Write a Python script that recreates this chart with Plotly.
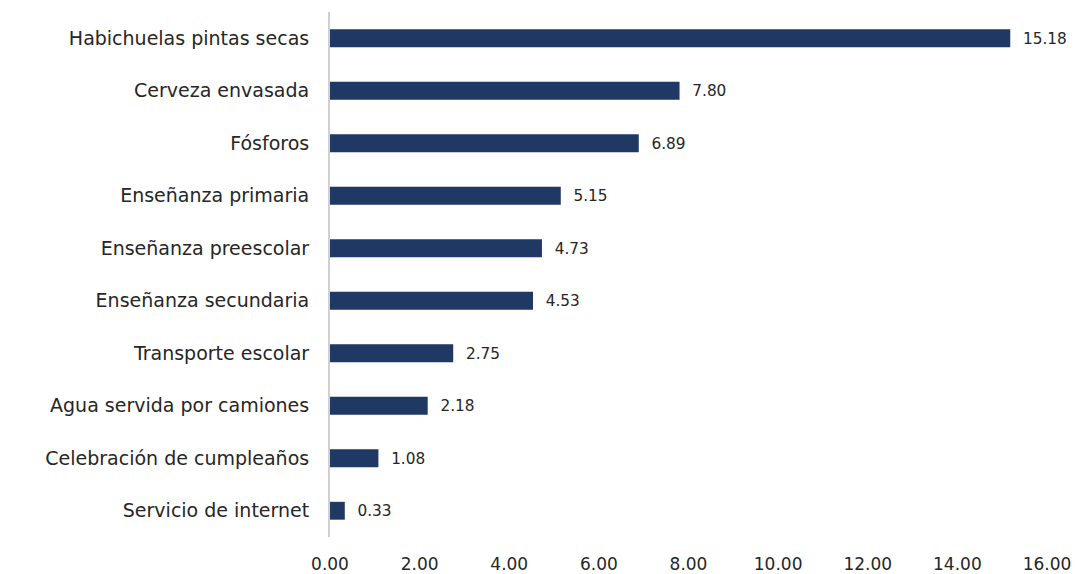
import plotly.graph_objects as go

# Data
categorias = [
    "Habichuelas pintas secas",
    "Cerveza envasada",
    "Fósforos",
    "Enseñanza primaria",
    "Enseñanza preescolar",
    "Enseñanza secundaria",
    "Transporte escolar",
    "Agua servida por camiones",
    "Celebración de cumpleaños",
    "Servicio de internet",
]
valores = [15.18, 7.80, 6.89, 5.15, 4.73, 4.53, 2.75, 2.18, 1.08, 0.33]
tick_vals = [0, 2, 4, 6, 8, 10, 12, 14, 16]

FONT = "'DejaVu Sans', sans-serif"
TEXT_COLOR = "#262626"
NBSP = "\u00a0"

fig = go.Figure()
fig.add_trace(go.Bar(
    x=valores,
    y=categorias,
    orientation="h",
    width=0.34,
    marker=dict(color="#203864", line=dict(width=0)),
    text=[NBSP * 2 + f"{v:.2f}" for v in valores],
    textposition="outside",
    textfont=dict(size=18, color=TEXT_COLOR, family=FONT),
    cliponaxis=False,
))

fig.update_layout(
    width=1083, height=574,
    margin=dict(l=330, r=36, t=12, b=37),
    paper_bgcolor="white",
    plot_bgcolor="white",
    showlegend=False,
    font=dict(family=FONT, color=TEXT_COLOR, size=18),
)
fig.update_xaxes(
    range=[0, 16],
    tickvals=tick_vals,
    ticktext=[f"{v:.2f}" for v in tick_vals],
    showgrid=False,
    zeroline=False,
    showline=False,
    ticks="",
    automargin=False,
    ticklabelstandoff=15,
    tickfont=dict(size=17, family=FONT, color=TEXT_COLOR),
)
fig.update_yaxes(
    categoryorder="array",
    categoryarray=categorias[::-1],
    showgrid=False,
    showline=True,
    linecolor="#d0d0d0",
    linewidth=2,
    ticks="",
    automargin=False,
    ticklabelstandoff=15,
    tickfont=dict(size=19, family=FONT, color=TEXT_COLOR),
)

# drop the browser's default 8px body margin so the figure sits at the page corner
fig.write_html("out.html", config={"displayModeBar": False},
               post_script="document.body.style.margin='0';")
